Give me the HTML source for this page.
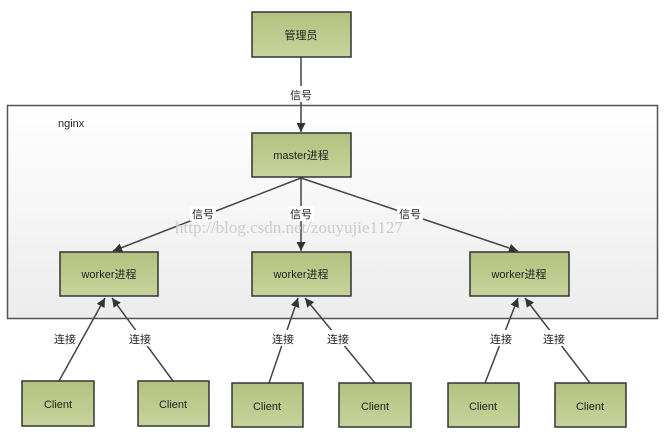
<!DOCTYPE html>
<html><head><meta charset="utf-8"><style>
body{margin:0;width:665px;height:435px;background:#fff;overflow:hidden;font-family:"Liberation Sans","Noto Sans CJK SC",sans-serif;}
</style></head><body>
<svg width="665" height="435" xmlns="http://www.w3.org/2000/svg" style="position:absolute;left:0;top:0">
<defs>
<linearGradient id="g" x1="0" y1="0" x2="0" y2="1"><stop offset="0" stop-color="#b3c27f"/><stop offset="1" stop-color="#c6d39c"/></linearGradient>
<linearGradient id="c" x1="0" y1="0" x2="0" y2="1"><stop offset="0" stop-color="#ffffff"/><stop offset="1" stop-color="#ececec"/></linearGradient>
<marker id="a" viewBox="0 0 10 10" refX="10" refY="5" markerWidth="9" markerHeight="9" markerUnits="userSpaceOnUse" orient="auto"><path d="M0,0 L10,5 L0,10 z" fill="#333"/></marker>
</defs>
<rect x="7.5" y="105.5" width="650" height="213" fill="url(#c)" stroke="#555" stroke-width="1.5"/>
<text x="58" y="127" font-size="11" fill="#222">nginx</text>
<g stroke="#444" stroke-width="1.5" fill="none" marker-end="url(#a)">
<line x1="301" y1="57" x2="301" y2="132"/>
<line x1="301" y1="178" x2="113" y2="251"/>
<line x1="301" y1="178" x2="301" y2="251"/>
<line x1="301" y1="178" x2="518" y2="251"/>
<line x1="59" y1="381" x2="105" y2="298"/>
<line x1="173" y1="381" x2="112" y2="298"/>
<line x1="269" y1="383" x2="298" y2="298"/>
<line x1="375" y1="383" x2="305" y2="298"/>
<line x1="485" y1="383" x2="518" y2="298"/>
<line x1="590" y1="383" x2="525" y2="298"/>
</g>
<text x="175" y="233" font-family="Liberation Serif,serif" font-size="17" fill="#ccc">http://blog.csdn.net/zouyujie1127</text>
<g font-size="11" fill="#222" text-anchor="middle">
<rect x="288" y="86" width="26" height="16" fill="#fff"/><text x="301" y="99">信号</text>
<rect x="190" y="206" width="26" height="15" fill="#fff"/><text x="203" y="218">信号</text>
<rect x="288" y="206" width="26" height="15" fill="#fff"/><text x="301" y="218">信号</text>
<rect x="397" y="206" width="26" height="15" fill="#fff"/><text x="410" y="218">信号</text>
<rect x="52" y="330" width="26" height="16" fill="#fff"/><text x="65" y="343">连接</text>
<rect x="127" y="330" width="26" height="16" fill="#fff"/><text x="140" y="343">连接</text>
<rect x="270" y="330" width="26" height="16" fill="#fff"/><text x="283" y="343">连接</text>
<rect x="325" y="330" width="26" height="16" fill="#fff"/><text x="338" y="343">连接</text>
<rect x="488" y="330" width="26" height="16" fill="#fff"/><text x="501" y="343">连接</text>
<rect x="541" y="330" width="26" height="16" fill="#fff"/><text x="554" y="343">连接</text>
</g>
<g stroke="#333" stroke-width="1.5" fill="url(#g)">
<rect x="252" y="12" width="99" height="45"/>
<rect x="252" y="133" width="99" height="44"/>
<rect x="60" y="252" width="98" height="44"/>
<rect x="252" y="252" width="99" height="44"/>
<rect x="470" y="252" width="99" height="44"/>
<rect x="22" y="381" width="72" height="45"/>
<rect x="138" y="381" width="71" height="45"/>
<rect x="232" y="383" width="71" height="44"/>
<rect x="339" y="383" width="72" height="44"/>
<rect x="448" y="383" width="71" height="44"/>
<rect x="555" y="383" width="71" height="44"/>
</g>
<g font-size="11" fill="#222" text-anchor="middle">
<text x="301" y="39">管理员</text>
<text x="301" y="159">master进程</text>
<text x="109" y="278">worker进程</text>
<text x="301" y="278">worker进程</text>
<text x="519" y="278">worker进程</text>
<text x="58" y="408">Client</text>
<text x="173" y="408">Client</text>
<text x="267" y="410">Client</text>
<text x="375" y="410">Client</text>
<text x="483" y="410">Client</text>
<text x="590" y="410">Client</text>
</g>
</svg>
</body></html>
